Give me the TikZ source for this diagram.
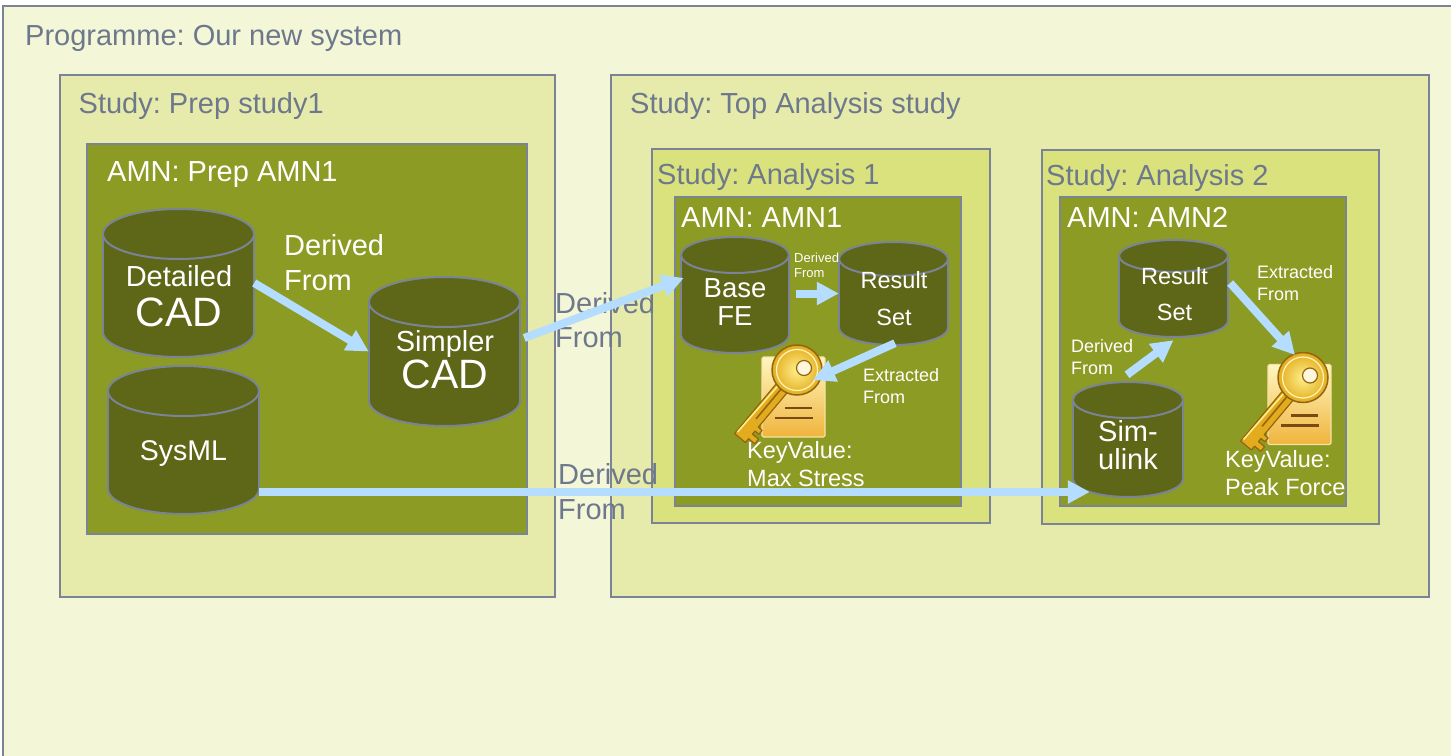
\documentclass[tikz,border=0pt]{standalone}
\usepackage{fontspec}
\setmainfont{Liberation Sans}
\frenchspacing
\usetikzlibrary{arrows.meta,calc}
\definecolor{progfill}{HTML}{F3F6D7}
\definecolor{studyfill}{HTML}{E6EBAB}
\definecolor{anfill}{HTML}{D9E27D}
\definecolor{amnfill}{HTML}{8C9B24}
\definecolor{cylfill}{HTML}{5E6618}
\definecolor{bordercol}{HTML}{7B8497}
\definecolor{txtgray}{HTML}{6E788C}
\definecolor{arrowblue}{HTML}{B4DDFF}
\definecolor{keygold}{HTML}{E3AC1E}
\definecolor{keydark}{HTML}{94650F}
\definecolor{keylight}{HTML}{FFF08C}
\definecolor{holefill}{HTML}{FFF7DC}
\definecolor{docTop}{HTML}{FFF6C0}
\definecolor{docBot}{HTML}{F0B43C}
\definecolor{docEdge}{HTML}{F6E2A6}
\definecolor{docline}{HTML}{7A4A14}

\tikzset{
  frame/.style={draw=bordercol, line width=2pt},
  cylline/.style={draw=bordercol, line width=2pt},
  gtitle/.style={anchor=base west, inner sep=0pt, text=txtgray, font=\fontsize{29}{34}\selectfont},
  wtitle/.style={anchor=base west, inner sep=0pt, text=white, font=\fontsize{29}{34}\selectfont},
  wlab/.style={inner sep=0pt, text=white},
  glab/.style={inner sep=0pt, text=txtgray},
  arr/.style={draw=arrowblue, line width=8pt, -{Triangle[length=22pt, width=22pt]}},
}

\newcommand{\mkcyl}[6]{% name, x1, x2, ytop, ybot, ry
  \pgfmathsetmacro\cylcx{(#2+#3)/2}%
  \pgfmathsetmacro\cylrx{(#3-#2)/2}%
  \pgfmathsetmacro\cylyb{#5-#6}%
  \pgfmathsetmacro\cylyt{#4+#6}%
  \pgfmathsetmacro\cylcy{(#4+#5)/2}%
  \filldraw[fill=cylfill, cylline] (\cylcx,\cylyb) ellipse [x radius=\cylrx, y radius=#6];
  \fill[cylfill] (#2,\cylyt) rectangle (#3,\cylyb);
  \draw[cylline] (#2,\cylyt) -- (#2,\cylyb) (#3,\cylyt) -- (#3,\cylyb);
  \filldraw[fill=cylfill, cylline] (\cylcx,\cylyt) ellipse [x radius=\cylrx, y radius=#6];
  \node[inner sep=0pt, minimum width={(#3-#2)*1pt}, minimum height={(#5-#4)*1pt}] (#1) at (\cylcx,\cylcy) {};
}

\newcommand{\keyicon}[1]{%
  \begin{scope}[shift={(#1)}]
    \shade[top color=docTop, bottom color=docBot, draw=docEdge, line width=1.2pt, rounded corners=1.5pt] (-31.5,-40) rectangle (31.5,40);
    \draw[docline, line width=2.2pt] (-8.5,11) -- (18.5,11) (-18.5,21) -- (19.5,21);
    \filldraw[fill=keygold, draw=keydark, line width=1.2pt, line join=round]
      (-58.87,36.5) -- (-48.13,45.5) -- (-44.92,41.67) -- (-38.78,46.81) -- (-34.92,42.21)
      -- (-41.06,37.06) -- (-38.49,34.0) -- (-34.65,37.21) -- (-31.44,33.38) -- (-35.27,30.16)
      -- (8.87,-22.5) -- (-1.87,-31.5) -- cycle;
    \draw[keylight, line width=1.5pt] (-56,35) -- (0,-29);
    \draw[keydark, line width=1.6pt] (-37.42,21.82) -- (-8.49,-12.69);
    \shade[inner color=keylight, outer color=keygold, draw=keydark, line width=1.5pt] (3.5,-27) circle [radius=25];
    \draw[keylight!60!white, line width=1.2pt] (3.5,-27) circle [radius=20.5];
    \filldraw[fill=holefill, draw=keydark, line width=1.2pt] (10.5,-29) circle [radius=7.5];
  \end{scope}}

\begin{document}
\begin{tikzpicture}[x=1pt, y=-1pt]
  \useasboundingbox (0,0) rectangle (1451,755);
  \clip (0,0) rectangle (1451,755);
  \fill[white] (0,0) rectangle (1451,755);

  % frames
  \fill[progfill] (3,6) rectangle (1480,790);
  \draw[frame] (3,790) -- (3,6) -- (1480,6);
  \draw[frame, fill=studyfill] (60,75) rectangle (555,597);
  \draw[frame, fill=amnfill] (87,144) rectangle (527,534);
  \draw[frame, fill=studyfill] (611,75) rectangle (1429,597);
  \draw[frame, fill=anfill] (652,149) rectangle (990,523);
  \draw[frame, fill=amnfill] (675,197) rectangle (961,506);
  \draw[frame, fill=anfill] (1042,150) rectangle (1379,524);
  \draw[frame, fill=amnfill] (1060,197) rectangle (1346,506);

  % titles
  \node[gtitle] (tprog) at (25,45) {Programme: Our new system};
  \node[gtitle] (tprep) at (78.5,113) {Study: Prep study1};
  \node[wtitle] (tamnprep) at (107,181) {AMN: Prep AMN1};
  \node[gtitle] (ttop) at (630,113) {Study: Top Analysis study};
  \node[gtitle] (tan1) at (657,184) {Study: Analysis 1};
  \node[wtitle] (tamn1) at (681,227) {AMN: AMN1};
  \node[gtitle] (tan2) at (1046,185) {Study: Analysis 2};
  \node[wtitle] (tamn2) at (1067,227) {AMN: AMN2};

  % cylinders
  \mkcyl{det}{103}{254}{209}{357}{25}
  \mkcyl{simp}{369}{520}{277}{426}{25}
  \mkcyl{sys}{108}{259}{366}{514}{25}
  \mkcyl{base}{681}{789}{237}{353}{18}
  \mkcyl{res1}{839}{948}{242}{345}{17}
  \mkcyl{res2}{1119}{1228}{240}{337}{16}
  \mkcyl{simul}{1073}{1183}{382}{497}{18}

  % cylinder texts (base anchor = baseline of the last line)
  \node[wlab, anchor=base, align=center, font=\fontsize{29}{40}\selectfont] (tdet) at (179,326) {Detailed\\{\fontsize{41}{41}\selectfont CAD}};
  \node[wlab, anchor=base, align=center, font=\fontsize{29}{37}\selectfont] (tsimp) at (445,388) {Simpler\\{\fontsize{41}{41}\selectfont CAD}};
  \node[wlab, anchor=base, font=\fontsize{28.5}{34}\selectfont] (tsys) at (183.5,460) {SysML};
  \node[wlab, anchor=base, align=center, font=\fontsize{27.5}{28}\selectfont] (tbase) at (735,325) {Base\\FE};
  \node[wlab, anchor=base, align=center, font=\fontsize{23.5}{37}\selectfont] (tres1) at (894,325) {Result\\Set};
  \node[wlab, anchor=base, align=center, font=\fontsize{23.5}{36}\selectfont] (tres2) at (1174.5,320) {Result\\Set};
  \node[wlab, anchor=base, align=center, font=\fontsize{29}{27.5}\selectfont] (tsim) at (1128,469) {Sim-\\ulink};

  % key icons
  \node[inner sep=0pt, minimum width=63pt, minimum height=80pt] (key1) at (793.5,397) {};
  \node[inner sep=0pt, minimum width=63pt, minimum height=80pt] (key2) at (1299.5,404.5) {};
  \keyicon{key1.center}
  \keyicon{key2.center}

  % labels (base anchor = baseline of the last line)
  \node[wlab, anchor=base west, align=left, font=\fontsize{29}{35}\selectfont] (ld1) at (284,290) {Derived\\From};
  \node[glab, anchor=base west, align=left, font=\fontsize{29}{34}\selectfont] (ld2) at (555,347) {Derived\\From};
  \node[glab, anchor=base west, align=left, font=\fontsize{29}{35}\selectfont] (ld3) at (558,519) {Derived\\From};
  \node[wlab, anchor=base west, align=left, font=\fontsize{13}{15}\selectfont] (ld4) at (794,277) {Derived\\From};
  \node[wlab, anchor=base west, align=left, font=\fontsize{18}{22}\selectfont] (le1) at (863,403) {Extracted\\From};
  \node[wlab, anchor=base west, align=left, font=\fontsize{23.5}{28}\selectfont] (lk1) at (747,486) {KeyValue:\\Max Stress};
  \node[wlab, anchor=base west, align=left, font=\fontsize{18}{22}\selectfont] (le2) at (1257,300) {Extracted\\From};
  \node[wlab, anchor=base west, align=left, font=\fontsize{18}{22}\selectfont] (ld5) at (1071,374) {Derived\\From};
  \node[wlab, anchor=base west, align=left, font=\fontsize{23.5}{28}\selectfont] (lk2) at (1225,495) {KeyValue:\\Peak Force};

  % connectors
  \draw[arr] (det.east) -- (simp.west);
  \draw[arr] ([shift={(4,-13.5)}]simp.east) -- ([shift={(3,-17)}]base.west);
  \draw[arr] ([shift={(7,-1.5)}]base.east) -- (res1.west);
  \draw[arr] ([shift={(1.5,-2)}]res1.south) -- ([shift={(19.5,-17)}]key1.center);
  \draw[arr] ([shift={(0,52)}]sys.east) -- ([shift={(17,52.5)}]simul.west);
  \draw[arr] ([shift={(-1,-7)}]simul.north) -- ([shift={(0,3)}]res2.south);
  \draw[arr] ([shift={(2,-5.5)}]res2.east) -- ([shift={(-4.5,-49.5)}]key2.center);
\end{tikzpicture}
\end{document}
